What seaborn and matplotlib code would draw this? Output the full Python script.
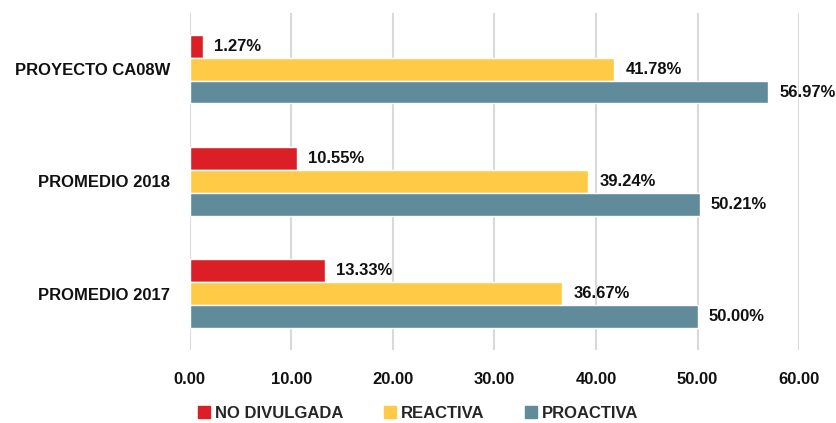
import matplotlib
matplotlib.use("Agg")
import matplotlib.pyplot as plt
import pandas as pd
import seaborn as sns
from matplotlib.ticker import FormatStrFormatter

# Chart data
categories = ["PROYECTO CA08W", "PROMEDIO 2018", "PROMEDIO 2017"]
series = ["NO DIVULGADA", "REACTIVA", "PROACTIVA"]
no_divulgada = [1.27, 10.55, 13.33]
reactiva = [41.78, 39.24, 36.67]
proactiva = [56.97, 50.21, 50.00]

colors = ["#DA1F26", "#FFCA45", "#5F8B9A"]

df = pd.DataFrame({
    "Grupo": categories * 3,
    "Tipo": [s for s in series for _ in categories],
    "Valor": no_divulgada + reactiva + proactiva,
})

sns.set_theme(style="white")
plt.rcParams["font.family"] = ["Liberation Sans Narrow", "Liberation Sans", "DejaVu Sans"]
plt.rcParams["font.weight"] = "bold"
FS = 12

fig = plt.figure(figsize=(8.36, 4.23), dpi=100)
ax = fig.add_axes([0.227, 0.173, 0.729, 0.796])

sns.barplot(data=df, y="Grupo", x="Valor", hue="Tipo", order=categories,
            hue_order=series, palette=colors, width=0.61, orient="h",
            saturation=1, ax=ax, legend=False)

for container in ax.containers:
    ax.bar_label(container, labels=[f"{v:.2f}%" for v in container.datavalues],
                 padding=8, fontsize=FS, fontweight="bold", color="#111111",
                 clip_on=False)

ax.set_xlim(0, 60)
ax.set_ylim(2.5, -0.5)
ax.set_xticks(range(0, 61, 10))
ax.xaxis.set_major_formatter(FormatStrFormatter("%.2f"))
ax.grid(axis="x", color="#D9D9D9", linewidth=1.5)
ax.set_axisbelow(True)
for s in ax.spines.values():
    s.set_visible(False)
ax.tick_params(axis="both", length=0, labelsize=FS, labelcolor="#111111")
ax.tick_params(axis="x", pad=16)
ax.tick_params(axis="y", pad=14)
for lab in ax.get_xticklabels() + ax.get_yticklabels():
    lab.set_fontweight("bold")
ax.set_xlabel("")
ax.set_ylabel("")

handles = [plt.Rectangle((0, 0), 1, 1, color=c) for c in colors]
fig.legend(handles, series, loc="lower center", bbox_to_anchor=(0.5, -0.03),
           ncol=3, frameon=False, handlelength=0.75, handleheight=0.75,
           handletextpad=0.3, columnspacing=2.4,
           prop={"size": FS, "weight": "bold"})

fig.savefig("out.png", dpi=100)
